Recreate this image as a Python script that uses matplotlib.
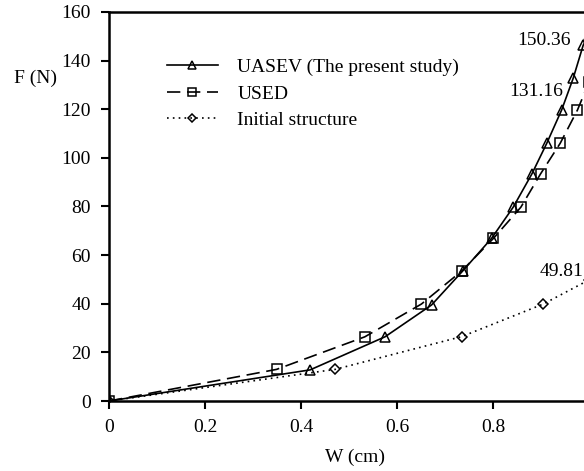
import matplotlib
matplotlib.use("Agg")
import matplotlib.pyplot as plt

plt.rcParams['font.family'] = ['Liberation Serif', 'DejaVu Serif']

uasev_x = [0, 0.419, 0.575, 0.672, 0.737, 0.797, 0.842, 0.881, 0.912, 0.943, 0.967, 0.988, 1.0]
uasev_y = [0, 12.8, 26.4, 39.5, 53.5, 66.9, 79.7, 93.4, 106.0, 119.7, 132.7, 146.4, 150.36]
used_x = [0, 0.349, 0.533, 0.651, 0.735, 0.801, 0.858, 0.899, 0.940, 0.976, 1.0]
used_y = [0, 13.0, 26.4, 39.9, 53.5, 66.9, 79.7, 93.4, 106.0, 119.7, 131.16]
init_x = [0, 0.471, 0.735, 0.905, 1.0]
init_y = [0, 13.0, 26.5, 39.9, 49.81]

labels = ["UASEV (The present study)", "USED", "Initial structure"]
end_labels = ["150.36", "131.16", "49.81"]
xticks = [0, 0.2, 0.4, 0.6, 0.8]
xticklabels = ["0", "0.2", "0.4", "0.6", "0.8"]
yticks = [0, 20, 40, 60, 80, 100, 120, 140, 160]

FS = 14
W, H = 584, 471
fig = plt.figure(figsize=(W / 100, H / 100), dpi=100)
left, bottom, top = 109, 401, 12
ax = fig.add_axes([left / W, (H - bottom) / H, 480 / W, (bottom - top) / H])

ax.plot(uasev_x, uasev_y, color='black', lw=1.2, marker='^', ms=7,
        mfc='none', mec='black', mew=1.1, label=labels[0])
ax.plot(used_x, used_y, color='black', lw=1.2, dashes=(8, 4), marker='s', ms=7,
        mfc='none', mec='black', mew=1.1, label=labels[1])
ax.plot(init_x, init_y, color='black', lw=1.2, dashes=(1, 2.5), marker='D', ms=5,
        mfc='none', mec='black', mew=1.1, label=labels[2])

ax.set_xlim(0, 1.0)
ax.set_ylim(0, 160)
ax.set_xticks(xticks)
ax.set_xticklabels(xticklabels)
ax.set_yticks(yticks)
ax.tick_params(direction='out', length=6, width=1.5, labelsize=FS, pad=7)
for s in ['left', 'bottom', 'top']:
    ax.spines[s].set_linewidth(1.8)
ax.spines['right'].set_visible(False)

ax.text(0.962, 148.1, end_labels[0], ha='right', va='center', fontsize=FS)
ax.text(0.945, 127.5, end_labels[1], ha='right', va='center', fontsize=FS)
ax.text(0.988, 53.2, end_labels[2], ha='right', va='center', fontsize=FS)

fig.text(36 / W, (H - 78) / H, "F (N)", ha='center', va='center', fontsize=FS)
fig.text(355 / W, (H - 457) / H, "W (cm)", ha='center', va='center', fontsize=FS)

leg = ax.legend(loc='upper left', bbox_to_anchor=(0.105, 0.9), frameon=False,
                fontsize=FS, handlelength=2.6, handletextpad=1.0,
                labelspacing=0.45, markerscale=0.75, borderaxespad=0)

fig.savefig("out.png", dpi=100)
